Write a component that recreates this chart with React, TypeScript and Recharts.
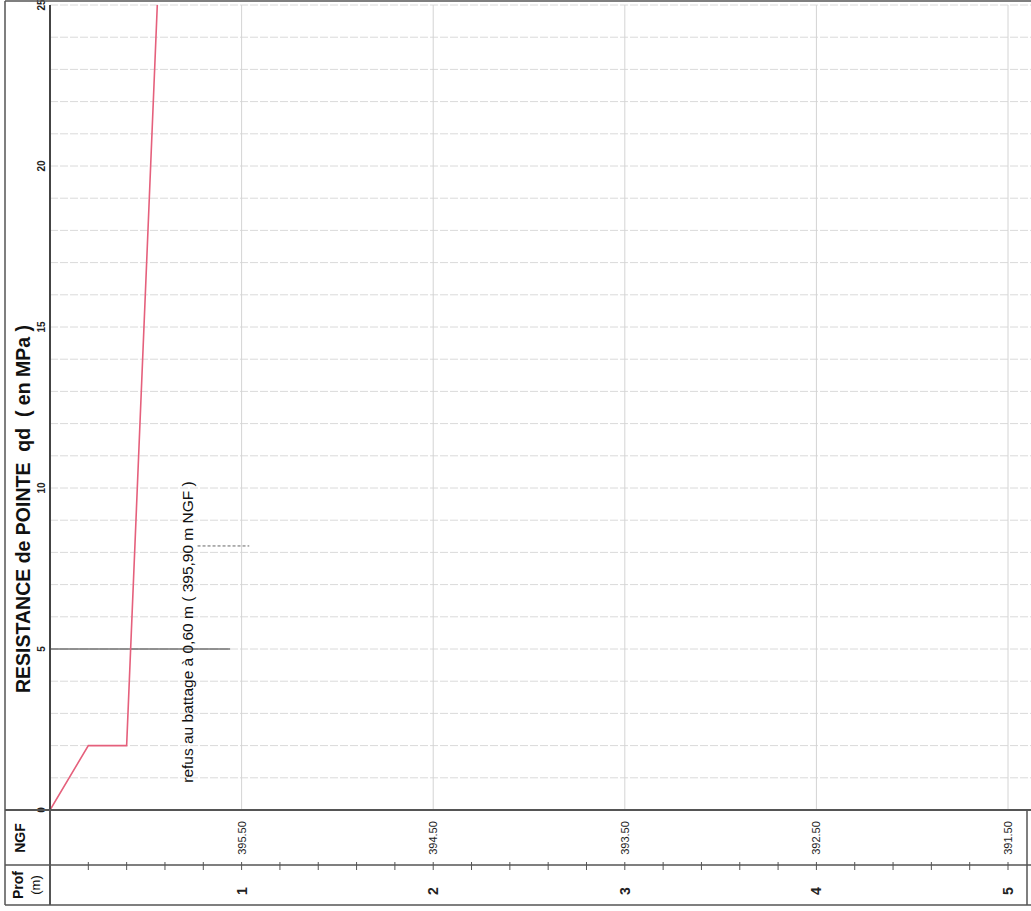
import React from 'react';
import { LineChart, Line, XAxis, YAxis, CartesianGrid, ReferenceLine } from 'recharts';

// profil penetrometre (profondeur en m, qd en MPa)
const depths = [0, 0.2, 0.4, 0.56];
const qdValues = [0, 2, 2, 25];

const depthTicks = [0, 0.2, 0.4, 0.6, 0.8, 1, 1.2, 1.4, 1.6, 1.8, 2, 2.2, 2.4, 2.6, 2.8, 3, 3.2, 3.4, 3.6, 3.8, 4, 4.2, 4.4, 4.6, 4.8, 5];
const profLabels = ['1', '2', '3', '4', '5'];
const ngfLabels = ['395.50', '394.50', '393.50', '392.50', '391.50'];
const qdTicks = [0, 1, 2, 3, 4, 5, 6, 7, 8, 9, 10, 11, 12, 13, 14, 15, 16, 17, 18, 19, 20, 21, 22, 23, 24, 25];
const qdLabels = [0, 5, 10, 15, 20, 25];

const title = 'RESISTANCE de POINTE\u00a0\u00a0qd\u00a0\u00a0( en MPa )';
const refusText = 'refus au battage à 0,60 m ( 395,90 m NGF )';

const data = depths.map((d, i) => ({ depth: d, qd: qdValues[i] }));

const FONT = '"Liberation Sans", Arial, sans-serif';

const DepthTick = ({ x, y, payload }: any) => {
    const v = Math.round(payload.value * 10) / 10;
    const idx = profLabels.indexOf(String(v));
    return (
        <g>
            {v > 0 && <line x1={x} x2={x} y1={y + 52} y2={y + 60} stroke="#555" strokeWidth={1} />}
            {idx >= 0 && (
                <>
                    <text x={x} y={y + 28} transform={`rotate(-90 ${x} ${y + 28})`} textAnchor="middle" dominantBaseline="central"
                        fontSize={11} fill="#222" fontFamily={FONT}>{ngfLabels[idx]}</text>
                    <text x={x} y={y + 81} transform={`rotate(-90 ${x} ${y + 81})`} textAnchor="middle" dominantBaseline="central"
                        fontSize={14} fontWeight="bold" fill="#222" fontFamily={FONT}>{profLabels[idx]}</text>
                </>
            )}
        </g>
    );
};

const QdTick = ({ x, y, payload }: any) => {
    if (!qdLabels.includes(payload.value)) return null;
    const tx = x - 9;
    return (
        <text x={tx} y={y} transform={`rotate(-90 ${tx} ${y})`} textAnchor="middle" dominantBaseline="central"
            fontSize={10} fontWeight="bold" fill="#222" fontFamily={FONT}>{payload.value}</text>
    );
};

export default function App() {
    return (
        <div style={{ position: 'absolute', left: 0, top: 0, width: 1031, height: 911, background: '#fff', fontFamily: FONT }}>
            <LineChart width={1031} height={911} data={data} margin={{ top: 5, right: 0, left: 0, bottom: 0 }}>
                <CartesianGrid vertical={false} stroke="#dadada" strokeDasharray="8 2" />
                {profLabels.map(p => (
                    <ReferenceLine key={p} x={Number(p)} stroke="#d4d4d4" strokeWidth={1} />
                ))}
                <XAxis dataKey="depth" type="number" domain={[0, 5.12]} ticks={depthTicks} interval={0}
                    allowDataOverflow height={101} tickSize={0} tickMargin={0} tickLine={false}
                    axisLine={{ stroke: '#555', strokeWidth: 2 }} tick={<DepthTick />} />
                <YAxis type="number" domain={[0, 25]} ticks={qdTicks} interval={0} width={50}
                    tickSize={0} tickMargin={0} tickLine={false}
                    axisLine={{ stroke: '#444', strokeWidth: 2 }} tick={<QdTick />} />
                <ReferenceLine segment={[{ x: 0, y: 5 }, { x: 0.94, y: 5 }]} stroke="#333" strokeWidth={1} />
                <ReferenceLine segment={[{ x: 0.77, y: 8.2 }, { x: 1.04, y: 8.2 }]} stroke="#666" strokeWidth={1} strokeDasharray="3 2" />
                <Line type="linear" dataKey="qd" stroke="#e5607c" strokeWidth={1.6} dot={false} isAnimationActive={false} />
            </LineChart>
            <svg width={1031} height={911} style={{ position: 'absolute', left: 0, top: 0, pointerEvents: 'none' }}>
                <g stroke="#555" fill="none">
                    <line x1={5} x2={1031} y1={1} y2={1} strokeWidth={1.5} />
                    <line x1={5} x2={5} y1={1} y2={905} strokeWidth={1.5} />
                    <line x1={5} x2={1031} y1={810} y2={810} strokeWidth={2} />
                    <line x1={5} x2={1031} y1={865} y2={865} strokeWidth={1.5} />
                    <line x1={5} x2={1031} y1={905} y2={905} strokeWidth={1.5} />
                    <line x1={50} x2={50} y1={810} y2={905} strokeWidth={2} />
                    <line x1={1027} x2={1027} y1={810} y2={905} strokeWidth={1.5} />
                </g>
                <text x={23} y={509} transform="rotate(-90 23 509)" textAnchor="middle" dominantBaseline="central"
                    fontSize={19.5} fontWeight="bold" fill="#111" fontFamily={FONT}>{title}</text>
                <text x={187} y={632} transform="rotate(-90 187 632)" textAnchor="middle" dominantBaseline="central"
                    fontSize={15.5} fill="#111" fontFamily={FONT}>{refusText}</text>
                <text x={20} y={838} transform="rotate(-90 20 838)" textAnchor="middle" dominantBaseline="central"
                    fontSize={14} fontWeight="bold" fill="#111" fontFamily={FONT}>NGF</text>
                <text x={18} y={885} transform="rotate(-90 18 885)" textAnchor="middle" dominantBaseline="central"
                    fontSize={14} fontWeight="bold" fill="#111" fontFamily={FONT}>Prof</text>
                <text x={35} y={885} transform="rotate(-90 35 885)" textAnchor="middle" dominantBaseline="central"
                    fontSize={13} fill="#111" fontFamily={FONT}>(m)</text>
            </svg>
        </div>
    );
}
